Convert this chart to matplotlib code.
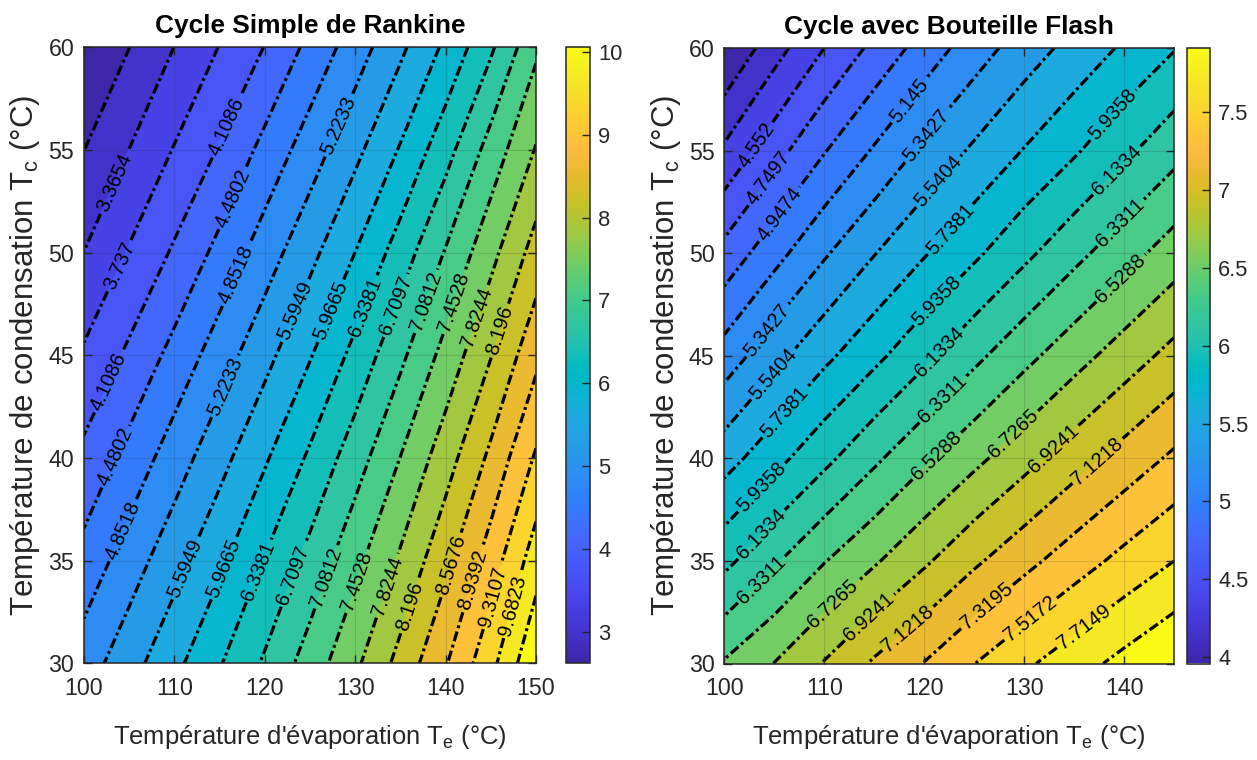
import numpy as np
import matplotlib
matplotlib.use("Agg")
import matplotlib.pyplot as plt
from matplotlib import font_manager
from matplotlib.colors import LinearSegmentedColormap, Normalize
from matplotlib.cm import ScalarMappable

# ---------------------------------------------------------------------------
# Data: coefficient of performance on a (Te, Tc) grid, rows = Tc, cols = Te
# ---------------------------------------------------------------------------
te_simple = [100, 105, 110, 115, 120, 125, 130, 135, 140, 145, 150]
tc_simple = [30, 35, 40, 45, 50, 55, 60]
cop_simple = [
    [5.04, 5.45, 5.87, 6.31, 6.76, 7.25, 7.75, 8.32, 8.91, 9.57, 10.39],
    [4.61, 5.04, 5.46, 5.89, 6.36, 6.83, 7.35, 7.88, 8.47, 9.12, 9.88],
    [4.20, 4.61, 5.04, 5.47, 5.92, 6.40, 6.91, 7.46, 8.03, 8.65, 9.36],
    [3.79, 4.18, 4.60, 5.04, 5.48, 5.94, 6.45, 7.00, 7.58, 8.18, 8.84],
    [3.37, 3.77, 4.16, 4.59, 5.04, 5.49, 5.97, 6.51, 7.11, 7.71, 8.35],
    [2.99, 3.37, 3.76, 4.14, 4.59, 5.04, 5.50, 6.00, 6.57, 7.23, 7.85],
    [2.62, 2.99, 3.37, 3.75, 4.12, 4.58, 5.04, 5.52, 6.04, 6.65, 7.38],
]
levels_simple = [2.9938, 3.3654, 3.737, 4.1086, 4.4802, 4.8518, 5.2233,
                 5.5949, 5.9665, 6.3381, 6.7097, 7.0812, 7.4528, 7.8244,
                 8.196, 8.5676, 8.9392, 9.3107, 9.6823, 10.0539]
cmin_simple = 2.6222

te_flash = [100, 105, 110, 115, 120, 125, 130, 135, 140, 145]
tc_flash = [30, 35, 40, 45, 50, 55, 60]
cop_flash = [
    [6.548, 6.731, 6.937, 7.150, 7.327, 7.514, 7.679, 7.830, 7.973, 8.110],
    [6.080, 6.305, 6.519, 6.702, 6.893, 7.088, 7.260, 7.424, 7.576, 7.715],
    [5.656, 5.869, 6.082, 6.294, 6.493, 6.675, 6.855, 7.033, 7.200, 7.356],
    [5.231, 5.476, 5.691, 5.885, 6.085, 6.283, 6.471, 6.649, 6.821, 6.990],
    [4.813, 5.075, 5.318, 5.532, 5.722, 5.899, 6.087, 6.274, 6.451, 6.624],
    [4.387, 4.671, 4.935, 5.166, 5.386, 5.573, 5.748, 5.911, 6.090, 6.267],
    [3.959, 4.273, 4.552, 4.801, 5.031, 5.248, 5.440, 5.608, 5.768, 5.925],
]
levels_flash = [4.1567, 4.3543, 4.552, 4.7497, 4.9474, 5.145, 5.3427,
                5.5404, 5.7381, 5.9358, 6.1334, 6.3311, 6.5288, 6.7265,
                6.9241, 7.1218, 7.3195, 7.5172, 7.7149, 7.9126]
cmin_flash = 3.959

xticks_simple = [100, 110, 120, 130, 140, 150]
xticks_flash = [100, 110, 120, 130, 140]
yticks = [30, 35, 40, 45, 50, 55, 60]
cticks_simple = [3, 4, 5, 6, 7, 8, 9, 10]
cticks_flash = [4, 4.5, 5, 5.5, 6, 6.5, 7, 7.5]

# where the inline contour labels sit (Te, Tc), per level
label_spots_simple = {
    3.3654: [(103.3, 53.4)],
    3.737: [(104.2, 49.3)],
    4.1086: [(115.9, 56.1), (102.8, 43.7)],
    4.4802: [(116.7, 52.6), (103.8, 40.0)],
    4.8518: [(117.4, 48.8), (104.7, 36.4)],
    5.2233: [(128.6, 56.1), (116.1, 43.4)],
    5.5949: [(124.2, 47.0), (111.4, 34.6)],
    5.9665: [(128.2, 47.0), (115.7, 34.6)],
    6.3381: [(132.0, 47.2), (119.9, 34.4)],
    6.7097: [(135.8, 47.2), (123.7, 34.2)],
    7.0812: [(139.3, 47.4), (127.5, 34.1)],
    7.4528: [(142.2, 47.4), (130.9, 33.9)],
    7.8244: [(144.6, 46.7), (134.1, 33.7)],
    8.196: [(146.7, 46.1), (136.5, 32.7)],
    8.5676: [(141.3, 34.7)],
    8.9392: [(143.5, 34.0)],
    9.3107: [(145.6, 33.2)],
    9.6823: [(147.6, 32.8)],
}
label_spots_flash = {
    4.552: [(103.4, 55.2)],
    4.7497: [(104.6, 53.6)],
    4.9474: [(105.2, 52.0)],
    5.145: [(118.6, 57.4)],
    5.3427: [(120.2, 55.7), (103.9, 46.4)],
    5.5404: [(120.9, 53.7), (104.7, 44.2)],
    5.7381: [(121.6, 51.6), (105.7, 42.4)],
    5.9358: [(138.7, 56.8), (120.6, 48.0), (103.7, 38.6)],
    6.1334: [(138.9, 54.2), (120.6, 45.6), (103.7, 36.3)],
    6.3311: [(139.4, 51.6), (120.6, 43.5), (103.7, 34.1)],
    6.5288: [(139.4, 48.9), (120.7, 40.4)],
    6.7265: [(128.7, 41.3), (110.9, 32.9)],
    6.9241: [(132.9, 40.5), (114.4, 32.3)],
    7.1218: [(137.1, 40.0), (118.2, 31.8)],
    7.3195: [(126.2, 32.8)],
    7.5172: [(130.9, 32.0)],
    7.7149: [(135.9, 31.8)],
}

# ---------------------------------------------------------------------------
# Style
# ---------------------------------------------------------------------------
def first_font(*names):
    for n in names:
        try:
            font_manager.findfont(font_manager.FontProperties(family=n),
                                  fallback_to_default=False)
            return n
        except ValueError:
            pass
    return "DejaVu Sans"

NARROW = first_font("Liberation Sans Narrow", "Liberation Sans", "Arial")
REGULAR = first_font("Liberation Sans", "Arial")
# a narrow face lets the text sit at full height; otherwise shrink a little
SHRINK = 1.0 if NARROW != REGULAR else 0.9

plt.rcParams.update({
    "font.family": [NARROW, "DejaVu Sans"],
    "mathtext.default": "regular",
    "axes.linewidth": 1.1,
    "axes.edgecolor": "#262626",
})

# parula-like colour map
PARULA_RGB = [
    (0.2422, 0.1504, 0.6603), (0.2504, 0.1650, 0.7076), (0.2578, 0.1818, 0.7511),
    (0.2647, 0.1978, 0.7952), (0.2706, 0.2147, 0.8364), (0.2751, 0.2342, 0.8710),
    (0.2783, 0.2559, 0.8991), (0.2803, 0.2782, 0.9221), (0.2813, 0.3006, 0.9414),
    (0.2810, 0.3228, 0.9579), (0.2795, 0.3447, 0.9717), (0.2760, 0.3667, 0.9829),
    (0.2699, 0.3892, 0.9906), (0.2602, 0.4123, 0.9952), (0.2440, 0.4358, 0.9988),
    (0.2206, 0.4603, 0.9973), (0.1963, 0.4847, 0.9892), (0.1834, 0.5074, 0.9798),
    (0.1786, 0.5289, 0.9682), (0.1764, 0.5499, 0.9520), (0.1687, 0.5703, 0.9359),
    (0.1540, 0.5902, 0.9218), (0.1460, 0.6091, 0.9079), (0.1380, 0.6276, 0.8973),
    (0.1248, 0.6459, 0.8883), (0.1113, 0.6635, 0.8763), (0.0952, 0.6798, 0.8598),
    (0.0689, 0.6948, 0.8394), (0.0297, 0.7082, 0.8163), (0.0036, 0.7203, 0.7917),
    (0.0067, 0.7312, 0.7660), (0.0433, 0.7411, 0.7394), (0.0964, 0.7500, 0.7120),
    (0.1408, 0.7584, 0.6842), (0.1717, 0.7670, 0.6554), (0.1938, 0.7758, 0.6251),
    (0.2161, 0.7843, 0.5923), (0.2470, 0.7918, 0.5567), (0.2906, 0.7973, 0.5188),
    (0.3406, 0.8008, 0.4789), (0.3909, 0.8029, 0.4354), (0.4456, 0.8024, 0.3909),
    (0.5044, 0.7993, 0.3480), (0.5616, 0.7942, 0.3045), (0.6174, 0.7876, 0.2612),
    (0.6720, 0.7793, 0.2227), (0.7242, 0.7698, 0.1910), (0.7738, 0.7598, 0.1646),
    (0.8203, 0.7498, 0.1535), (0.8634, 0.7406, 0.1596), (0.9035, 0.7330, 0.1774),
    (0.9393, 0.7288, 0.2100), (0.9728, 0.7298, 0.2394), (0.9956, 0.7434, 0.2371),
    (0.9970, 0.7659, 0.2199), (0.9952, 0.7893, 0.2028), (0.9892, 0.8136, 0.1885),
    (0.9786, 0.8386, 0.1766), (0.9676, 0.8639, 0.1643), (0.9610, 0.8890, 0.1537),
    (0.9597, 0.9135, 0.1423), (0.9628, 0.9373, 0.1265), (0.9691, 0.9606, 0.1064),
    (0.9769, 0.9839, 0.0805),
]
PARULA = LinearSegmentedColormap.from_list("parula", PARULA_RGB, N=256)

DASHDOT = (0, (3.2, 1.1, 0.9, 1.1))
INK = "#262626"

W, H = 1257, 760
fig = plt.figure(figsize=(W / 100, H / 100), dpi=100)


def box(x0, y0, x1, y1):
    """Pixel box (top-left origin) -> figure fraction rectangle."""
    return [x0 / W, 1 - y1 / H, (x1 - x0) / W, (y1 - y0) / H]


def panel(ax, cax, te, tc, cop, levels, cmin, spots, title, xticks, xlim, cticks):
    z = np.array(cop)
    norm = Normalize(vmin=cmin, vmax=levels[-1])
    bounds = [min(cmin, z.min()) - 0.01] + list(levels) + [max(z.max(), levels[-1]) + 0.01]
    fills = [PARULA(norm(cmin))] + [PARULA(norm(v)) for v in levels]
    ax.contourf(te, tc, z, levels=bounds, colors=fills)

    # one contour set per level so each level's labels land on its own line
    for lv in levels:
        cs = ax.contour(te, tc, z, levels=[lv], colors="k", linewidths=2.3,
                        linestyles=[DASHDOT])
        if lv in spots:
            with plt.rc_context({"font.family": [REGULAR, "DejaVu Sans"]}):
                cs.clabel(manual=spots[lv], inline=True, inline_spacing=3,
                          fontsize=14.5, fmt=lambda v: f"{v:.5g}", colors="k")

    ax.set_xlim(*xlim)
    ax.set_ylim(30, 60)
    ax.set_xticks(xticks)
    ax.set_yticks(yticks)
    ax.grid(True, color=INK, alpha=0.15, linewidth=0.8)
    ax.set_axisbelow(False)
    ax.tick_params(which="both", direction="in", top=True, right=True,
                   length=6, width=1.0, colors=INK, labelsize=18.5 * SHRINK)
    ax.tick_params(axis="x", pad=10)
    ax.tick_params(axis="y", pad=7)
    ax.set_title(title, fontsize=21 * SHRINK, fontweight="bold", pad=10, color="k")
    ax.set_xlabel("Température d'évaporation T$_e$ (°C)", fontsize=20.5 * SHRINK,
                  color=INK)
    ax.set_ylabel("Température de condensation T$_c$ (°C)", fontsize=22.5,
                  color=INK, fontfamily=[REGULAR, "DejaVu Sans"])
    ax.xaxis.set_label_coords(0.5, -0.097)
    ax.yaxis.set_label_coords(-0.092, 0.5)

    cb = fig.colorbar(ScalarMappable(norm=norm, cmap=PARULA), cax=cax)
    cb.set_ticks(cticks)
    cb.set_ticklabels([f"{t:g}" for t in cticks])
    cb.ax.tick_params(direction="in", length=6, width=1.0, colors=INK,
                      labelsize=17.5 * SHRINK, pad=6)
    cb.outline.set_linewidth(1.1)
    cb.outline.set_edgecolor(INK)


ax1 = fig.add_axes(box(84, 47.3, 536, 663.3))
cax1 = fig.add_axes(box(566, 47.3, 590, 663.3))
ax2 = fig.add_axes(box(724.3, 48, 1174.3, 663.5))
cax2 = fig.add_axes(box(1187, 48, 1210, 663.5))

panel(ax1, cax1, te_simple, tc_simple, cop_simple, levels_simple, cmin_simple,
      label_spots_simple, "Cycle Simple de Rankine", xticks_simple, (100, 150),
      cticks_simple)
panel(ax2, cax2, te_flash, tc_flash, cop_flash, levels_flash, cmin_flash,
      label_spots_flash, "Cycle avec Bouteille Flash", xticks_flash, (100, 145),
      cticks_flash)

fig.savefig("out.png", dpi=100)
